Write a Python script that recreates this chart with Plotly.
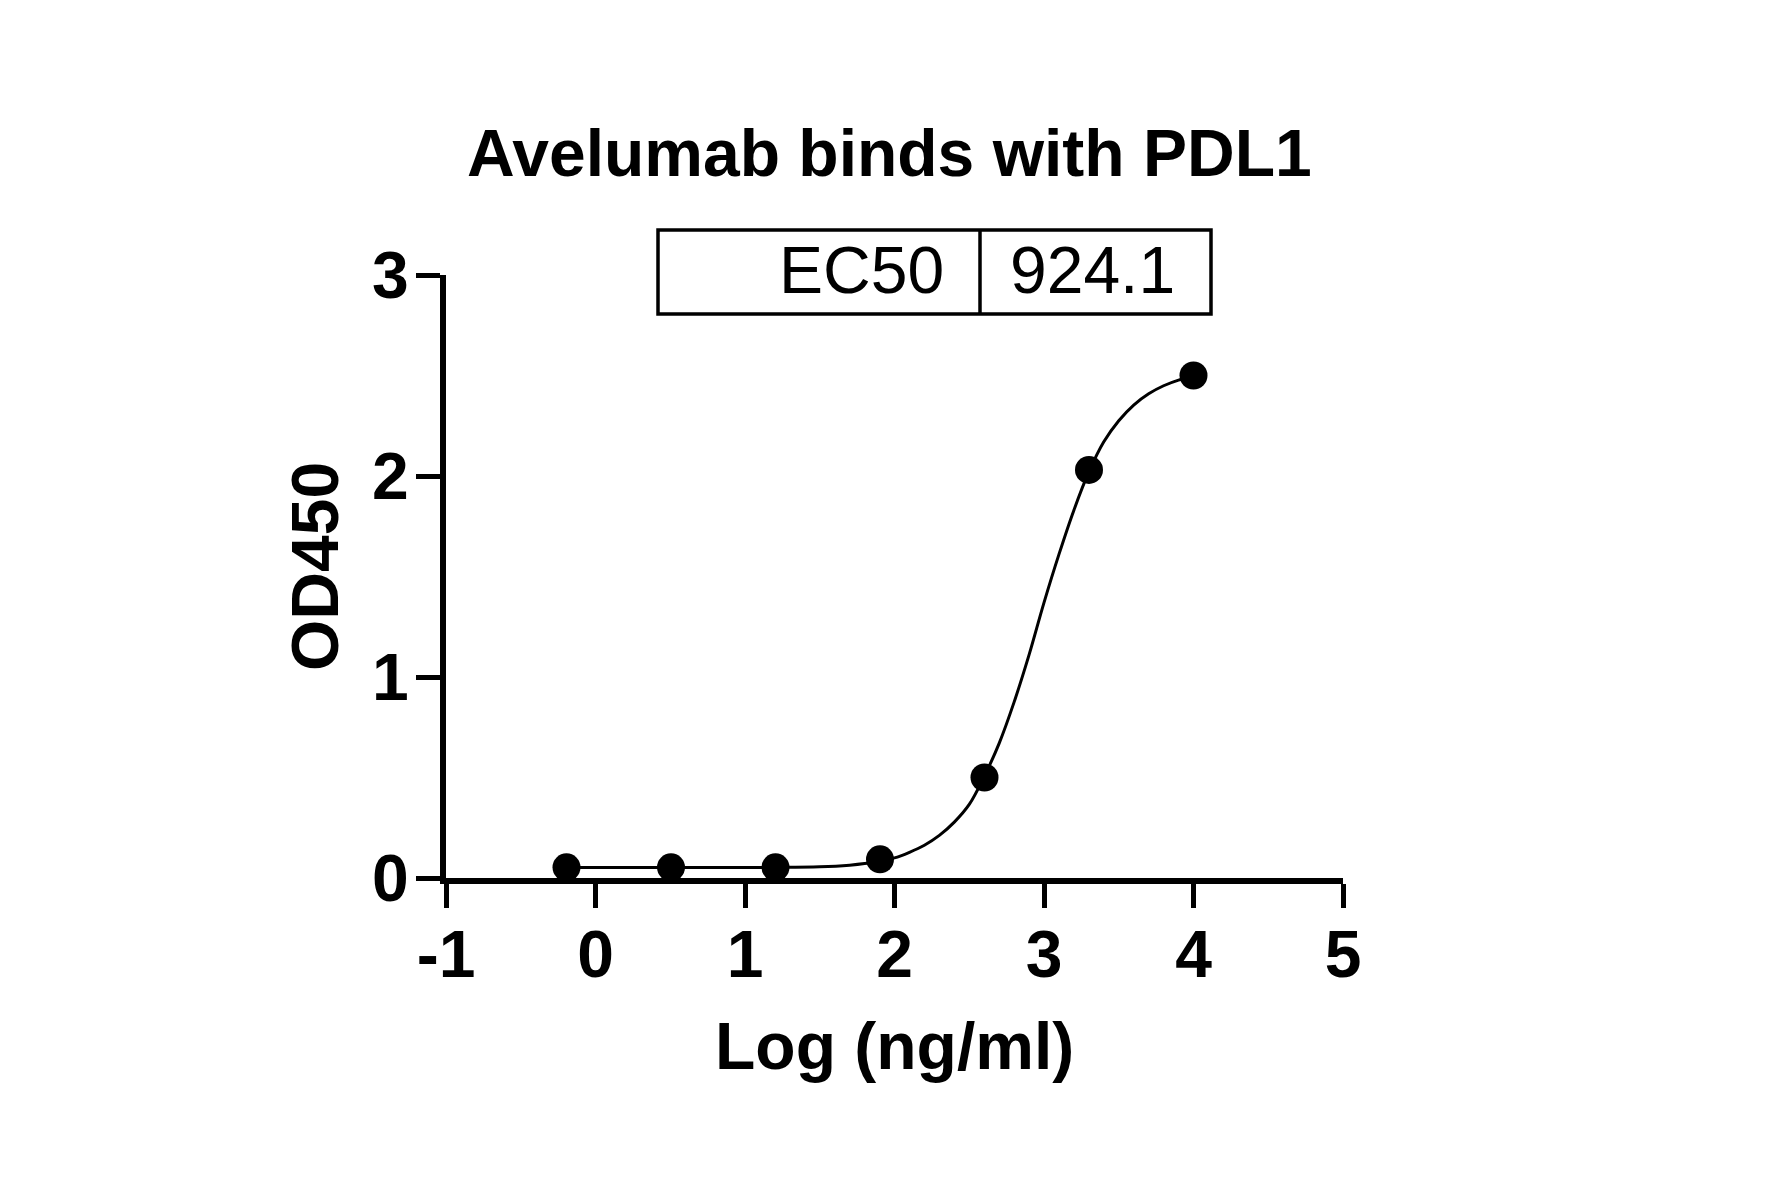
import plotly.graph_objects as go

# Measured points: log10 concentration (ng/ml) vs OD450
log_conc = [-0.194, 0.505, 1.204, 1.903, 2.602, 3.301, 4.0]
od450 = [0.053, 0.053, 0.053, 0.093, 0.50, 2.03, 2.50]

# Fitted curve
curve_x = [-0.194, 0.5, 1.2, 1.5, 1.7, 1.8, 1.9, 2.0, 2.1, 2.2, 2.3, 2.4, 2.5, 2.6,
           2.7, 2.8, 2.9, 3.0, 3.1, 3.2, 3.3, 3.4, 3.5, 3.6, 3.7, 3.8, 3.9, 4.0]
curve_y = [0.052, 0.052, 0.053, 0.056, 0.064, 0.072, 0.085, 0.100, 0.128, 0.163, 0.212,
           0.278, 0.366, 0.505, 0.67, 0.875, 1.11, 1.37, 1.61, 1.83, 2.02, 2.17, 2.275,
           2.353, 2.409, 2.449, 2.477, 2.496]

x_ticks = [-1, 0, 1, 2, 3, 4, 5]
y_ticks = [0, 1, 2, 3]

title_text = "Avelumab binds with PDL1"
x_title = "Log (ng/ml)"
y_title = "OD450"
ec50_label = "EC50"
ec50_value = "924.1"

FONT = "Liberation Sans, Arial, sans-serif"
W, H = 1770, 1197
L, R, T, B = 446, 427, 275, 319
pw, ph = W - L - R, H - T - B

def px(x):
    return (x - L) / pw

def py(y):
    return (H - B - y) / ph

fig = go.Figure()
fig.add_trace(go.Scatter(x=curve_x, y=curve_y, mode="lines",
                         line=dict(color="black", width=3, shape="spline", smoothing=1.0),
                         hoverinfo="skip", showlegend=False))
fig.add_trace(go.Scatter(x=log_conc, y=od450, mode="markers",
                         marker=dict(color="black", size=28, symbol="circle"),
                         showlegend=False, cliponaxis=False))

axis_common = dict(showline=True, linecolor="black", linewidth=6, ticks="outside",
                   ticklen=24, tickwidth=5, tickcolor="black", showgrid=False,
                   zeroline=False, mirror=False,
                   tickfont=dict(family=FONT, size=66, color="black", weight="bold"))

fig.update_xaxes(range=[-1, 5], tickmode="array", tickvals=x_ticks,
                 ticktext=[str(v) for v in x_ticks], ticklabelstandoff=-10, **axis_common)
fig.update_yaxes(range=[0, 3], tickmode="array", tickvals=y_ticks,
                 ticktext=[str(v) for v in y_ticks], ticklabelstandoff=-6, **axis_common)

annotations = [
    dict(text=title_text, x=px(889), y=py(153), xref="paper", yref="paper",
         xanchor="center", yanchor="middle", showarrow=False,
         font=dict(family=FONT, size=66, color="black", weight="bold")),
    dict(text=x_title, x=px(894), y=py(1046), xref="paper", yref="paper",
         xanchor="center", yanchor="middle", showarrow=False,
         font=dict(family=FONT, size=66, color="black", weight="bold")),
    dict(text=y_title, x=px(315), y=py(567), xref="paper", yref="paper",
         xanchor="center", yanchor="middle", showarrow=False, textangle=-90,
         font=dict(family=FONT, size=66, color="black", weight="bold")),
    dict(text=ec50_label, x=px(946), y=py(270), xref="paper", yref="paper",
         xanchor="right", yanchor="middle", showarrow=False,
         font=dict(family=FONT, size=66, color="black")),
    dict(text=ec50_value, x=px(1008), y=py(270), xref="paper", yref="paper",
         xanchor="left", yanchor="middle", showarrow=False,
         font=dict(family=FONT, size=66, color="black")),
]

shapes = [
    dict(type="rect", xref="paper", yref="paper", x0=px(658), x1=px(1211),
         y0=py(314), y1=py(230), line=dict(color="black", width=3.5)),
    dict(type="line", xref="paper", yref="paper", x0=px(980), x1=px(980),
         y0=py(314), y1=py(230), line=dict(color="black", width=3.5)),
]

fig.update_layout(width=W, height=H, margin=dict(l=L, r=R, t=T, b=B, pad=0),
                  paper_bgcolor="white", plot_bgcolor="white",
                  annotations=annotations, shapes=shapes, showlegend=False)

fig.write_html("out.html", config={"displayModeBar": False},
               post_script="document.body.style.margin='0';")
